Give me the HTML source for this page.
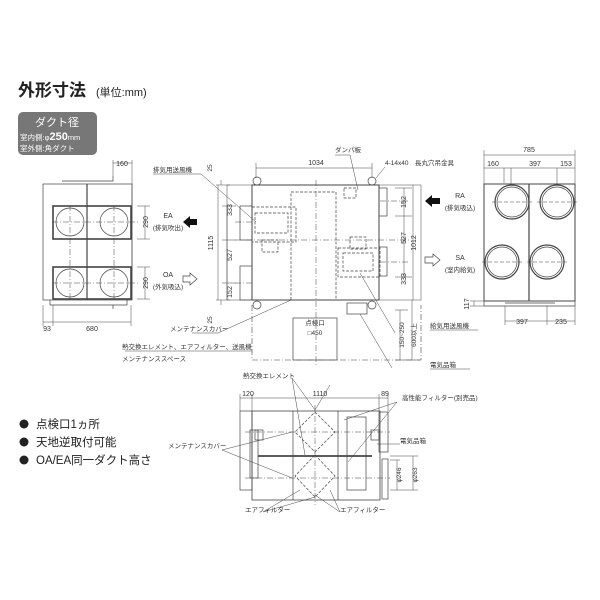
<!DOCTYPE html>
<html><head><meta charset="utf-8"><style>
html,body{margin:0;padding:0;background:#fff}
svg{display:block;font-family:"Liberation Sans","Noto Sans CJK JP",sans-serif}
.t{font-size:6.5px;fill:#333}
.d{font-size:7px;fill:#333}
</style></head><body>
<svg width="600" height="600" viewBox="0 0 600 600" xmlns="http://www.w3.org/2000/svg">
<g fill="none" stroke="#444" stroke-width="0.7">
<!-- Left view -->
<rect x="43" y="184" width="89" height="116"/>
<rect x="53" y="206" width="78" height="33" stroke-width="1.6"/>
<rect x="53" y="267" width="78" height="32" stroke-width="1.6"/>
<line x1="87" y1="184" x2="87" y2="300" stroke-width="1.2"/>
<circle cx="70" cy="222" r="14"/><circle cx="114" cy="222" r="14"/>
<circle cx="70" cy="283" r="14"/><circle cx="114" cy="283" r="14"/>
<path d="M62 181H113V176M50 300V305H127V300M62 305H113V309" />
<path d="M52 222H140M52 283H140M70 205V300M114 205V300" stroke-dasharray="6 2 1 2" stroke-width="0.5"/>
<path d="M113 163H132M113 160V176M132 160V300M137 206H150M137 239H150M137 267H150M137 299H150M145 206V239M145 267V299M43 322H131M43 305V326M53 305V326M131 305V326" stroke-width="0.5"/>
<!-- Middle top view -->
<rect x="227" y="185" width="194" height="115" stroke-width="0.5"/>
<rect x="252" y="185" width="127" height="115" stroke-width="1"/>
<rect x="240" y="206" width="12" height="34"/><rect x="240" y="266" width="12" height="34"/>
<rect x="379" y="188" width="8" height="28"/><rect x="379" y="247" width="8" height="29"/>
<circle cx="257" cy="181" r="4"/><circle cx="372" cy="181" r="4"/><circle cx="257" cy="305" r="4"/><circle cx="372" cy="305" r="4"/>
<g stroke-dasharray="3 1.5">
<rect x="291" y="192" width="45" height="108"/>
<rect x="252" y="207" width="44" height="35"/><rect x="255" y="213" width="33" height="20"/>
<rect x="262" y="240" width="16" height="12"/>
<rect x="338" y="248" width="42" height="29"/><rect x="343" y="253" width="30" height="18"/>
<rect x="350" y="237" width="16" height="12"/>
<rect x="344" y="188" width="12" height="10"/>
</g>
<path d="M316 180V365M235 240H410M235 222H252M235 283H252M380 201H410M380 262H410" stroke-dasharray="6 2 1 2" stroke-width="0.5"/>
<path d="M252 305V360H421V305" stroke-dasharray="6 2 1 2" stroke-width="0.6"/>
<rect x="293" y="318" width="44" height="42"/>
<rect x="347" y="303" width="20" height="11"/>
<path d="M256 168H372M256 163V178M372 163V178M216 185H230M216 300H230M218 185V300M222 206H236M222 240H236M222 283H236M227 206V300M221 180V185M221 300V305M395 188H412M395 216H412M395 277H412M404 188V277M413 185V300M395 310H408M395 360H420M400 310V360M412 300V360" stroke-width="0.5"/>
<!-- Right view -->
<rect x="484" y="184" width="91" height="117" stroke-width="1"/>
<line x1="529" y1="184" x2="529" y2="301" stroke-width="1.2"/>
<g stroke-width="1.2"><circle cx="512" cy="202" r="17"/><circle cx="557" cy="202" r="17"/><circle cx="502" cy="262" r="17"/><circle cx="547" cy="262" r="17"/></g>
<circle cx="512" cy="202" r="15"/><circle cx="557" cy="202" r="15"/><circle cx="502" cy="262" r="15"/><circle cx="547" cy="262" r="15"/>
<path d="M492 202H532M537 202H577M482 262H522M527 262H567" stroke-dasharray="4 2" stroke-width="0.5"/>
<path d="M484 301V306H575V301M505 303H555" />
<path d="M484 155H575M484 150V184M575 150V184M484 168H575M504 168V183M511 168V184M557 168V184M470 301H484M470 306H484M474 301V306M505 306V325M547 306V325M575 306V325M505 321H575" stroke-width="0.5"/>
<!-- Bottom view -->
<rect x="252" y="411" width="128" height="89" stroke-width="0.8"/>
<rect x="240" y="411" width="12" height="79"/>
<rect x="250" y="430" width="8" height="48"/>
<line x1="293" y1="411" x2="293" y2="500"/><line x1="338" y1="411" x2="338" y2="500"/>
<rect x="347" y="417" width="19" height="73"/>
<rect x="379" y="412" width="9" height="40"/><rect x="382" y="459" width="6" height="40"/>
<rect x="371" y="430" width="8" height="10"/><rect x="255" y="430" width="8" height="10"/>
<line x1="258" y1="456" x2="372" y2="456" stroke-width="1.8"/>
<path d="M315 412L335 432L315 452L295 432ZM315 455L335 476L315 497L295 476Z" stroke-dasharray="3 1.5"/>
<path d="M245 432H390M245 478H390M315 405V505" stroke-dasharray="6 2 1 2" stroke-width="0.5"/>
<path d="M240 398H388M240 394V411M252 394V411M379 394V411M388 394V411M390 460H400M390 490H418M390 456H418M397 460V490M413 456V490" stroke-width="0.5"/>
<!-- leaders -->
<path d="M153 174H201L256 222M335 155H350L358 190M385 167L376 178M192 333H218L291 300M395 333L360 273M125 351H252M392 368L360 314M292 378L315 410M292 378L305 455M397 402L344 420M397 402L348 462M222 450L292 432M222 450L292 478M330 385L315 410M430 330H478M430 369H470" stroke-width="0.5"/>
<path d="M400 444H377M263 512L300 490M263 512L315 497M340 512L330 490M340 512L315 495" stroke-width="0.5"/>
</g>
<!-- arrows -->
<path d="M183 222L190 216V219H197V225H190V228Z" fill="#111"/>
<path d="M197 279L190 273V276H183V282H190V285Z" fill="#fff" stroke="#444" stroke-width="0.7"/>
<path d="M425 201L432 195V198H440V204H432V207Z" fill="#111"/>
<path d="M440 260L433 254V257H425V263H433V266Z" fill="#fff" stroke="#444" stroke-width="0.7"/>
<!-- title -->
<text x="18" y="96" font-size="17" font-weight="bold" fill="#222">外形寸法</text>
<text x="96" y="96" font-size="11" fill="#222">(単位:mm)</text>
<rect x="18" y="112" width="79" height="43" rx="5" fill="#777"/>
<text x="57" y="126" font-size="11" fill="#fff" text-anchor="middle">ダクト径</text>
<text x="20" y="140" font-size="7.5" fill="#fff">室内側:φ<tspan font-size="11" font-weight="bold">250</tspan>mm</text>
<text x="20" y="151" font-size="7.5" fill="#fff">室外側:角ダクト</text>
<!-- left view labels -->
<text class="d" x="122" y="166" text-anchor="middle">160</text>
<text class="d" transform="translate(148,222) rotate(-90)" text-anchor="middle">290</text>
<text class="d" transform="translate(148,283) rotate(-90)" text-anchor="middle">290</text>
<text class="d" x="47" y="331" text-anchor="middle">93</text>
<text class="d" x="92" y="331" text-anchor="middle">680</text>
<text class="d" x="168" y="218" text-anchor="middle">EA</text>
<text class="t" x="168" y="230" text-anchor="middle">(排気吹出)</text>
<text class="d" x="168" y="277" text-anchor="middle">OA</text>
<text class="t" x="168" y="289" text-anchor="middle">(外気吸込)</text>
<!-- middle labels -->
<text class="t" x="153" y="172">排気用送風機</text>
<text class="t" x="335" y="152">ダンパ板</text>
<text class="t" x="385" y="165">4-14x40　長丸穴吊金具</text>
<text class="d" x="316" y="165" text-anchor="middle">1034</text>
<text class="d" transform="translate(213,243) rotate(-90)" text-anchor="middle">1115</text>
<text class="d" transform="translate(232,210) rotate(-90)" text-anchor="middle">333</text>
<text class="d" transform="translate(232,255) rotate(-90)" text-anchor="middle">527</text>
<text class="d" transform="translate(232,292) rotate(-90)" text-anchor="middle">152</text>
<text class="t" transform="translate(212,168) rotate(-90)" text-anchor="middle">25</text>
<text class="t" transform="translate(212,320) rotate(-90)" text-anchor="middle">25</text>
<text class="d" transform="translate(406,202) rotate(-90)" text-anchor="middle">152</text>
<text class="d" transform="translate(406,238) rotate(-90)" text-anchor="middle">527</text>
<text class="d" transform="translate(406,279) rotate(-90)" text-anchor="middle">333</text>
<text class="d" transform="translate(416,243) rotate(-90)" text-anchor="middle">1012</text>
<text class="t" transform="translate(404,335) rotate(-90)" text-anchor="middle">150~250</text>
<text class="t" transform="translate(416,335) rotate(-90)" text-anchor="middle">600以上</text>
<text class="t" x="315" y="325" text-anchor="middle">点検口</text>
<text class="t" x="315" y="335" text-anchor="middle">□450</text>
<text class="t" x="170" y="331">メンテナンスカバー</text>
<text class="t" x="122" y="349">熱交換エレメント、エアフィルター、送風機</text>
<text class="t" x="122" y="361">メンテナンススペース</text>
<text class="t" x="430" y="328">給気用送風機</text>
<text class="t" x="430" y="367">電気品箱</text>
<text class="d" x="460" y="198" text-anchor="middle">RA</text>
<text class="t" x="460" y="210" text-anchor="middle">(排気吸込)</text>
<text class="d" x="460" y="260" text-anchor="middle">SA</text>
<text class="t" x="460" y="272" text-anchor="middle">(室内給気)</text>
<!-- right labels -->
<text class="d" x="529" y="152" text-anchor="middle">785</text>
<text class="d" x="493" y="166" text-anchor="middle">160</text>
<text class="d" x="535" y="166" text-anchor="middle">397</text>
<text class="d" x="566" y="166" text-anchor="middle">153</text>
<text class="d" transform="translate(469,304) rotate(-90)" text-anchor="middle">117</text>
<text class="d" x="522" y="324" text-anchor="middle">397</text>
<text class="d" x="561" y="324" text-anchor="middle">235</text>
<!-- bottom view labels -->
<text class="t" x="243" y="378">熱交換エレメント</text>
<text class="d" x="248" y="396" text-anchor="middle">120</text>
<text class="d" x="320" y="396" text-anchor="middle">1110</text>
<text class="d" x="385" y="396" text-anchor="middle">89</text>
<text class="t" x="402" y="400">高性能フィルター(別売品)</text>
<text class="t" x="168" y="448">メンテナンスカバー</text>
<text class="t" x="400" y="443">電気品箱</text>
<text class="t" transform="translate(401,475) rotate(-90)" text-anchor="middle">φ246</text>
<text class="t" transform="translate(417,475) rotate(-90)" text-anchor="middle">φ263</text>
<text class="t" x="245" y="512">エアフィルター</text>
<text class="t" x="340" y="512">エアフィルター</text>
<!-- bullets -->
<circle cx="24" cy="424" r="4.5" fill="#222"/><circle cx="24" cy="442" r="4.5" fill="#222"/><circle cx="24" cy="460" r="4.5" fill="#222"/>
<text x="36" y="428" font-size="11.5" fill="#222">点検口1ヵ所</text>
<text x="36" y="446" font-size="11.5" fill="#222">天地逆取付可能</text>
<text x="36" y="464" font-size="11.5" fill="#222">OA/EA同一ダクト高さ</text>
</svg>
</body></html>
